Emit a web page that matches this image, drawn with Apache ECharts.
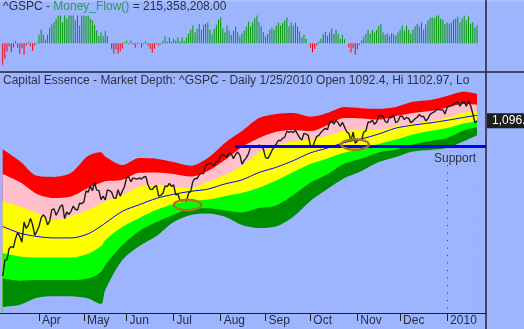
<!DOCTYPE html>
<html>
<head>
<meta charset="utf-8">
<script src="https://cdn.jsdelivr.net/npm/echarts@6/dist/echarts.min.js"></script>
<style>
html,body{margin:0;padding:0;background:#9db5ff;}
#chart{width:524px;height:329px;}
</style>
</head>
<body>
<div id="chart"></div>
<script>
// ^GSPC daily closes, one per trading day (index 0 = first bar)
const closes = [
  676.5, 719.6, 721.4, 750.7, 756.6, 753.9, 778.1, 794.4, 784.0, 768.5, 822.9, 806.1, 813.9, 832.9, 815.9, 787.5, 797.9,
  811.1, 834.4, 842.5, 835.5, 815.6, 825.2, 856.6, 858.7, 841.5, 852.1, 865.3, 869.6, 832.4, 850.1, 843.6, 851.9, 866.2, 857.5, 855.2, 873.6, 872.8,
  877.5, 907.2, 903.8, 919.5, 907.4, 929.2, 909.2, 908.4, 883.9, 893.1, 882.9, 909.7, 908.1, 903.5, 888.3, 887.0, 910.3, 893.1, 906.8, 919.1,
  942.9, 944.7, 931.8, 942.5, 940.1, 939.1, 942.4, 939.2, 944.9, 946.2, 923.7, 912.0, 910.7, 918.4, 921.2, 893.0, 895.1, 900.9, 920.3, 918.9, 927.2, 919.3,
  923.3, 896.4, 898.7, 881.0, 879.6, 882.7, 879.1, 901.1, 905.8, 932.7, 940.7, 940.4, 951.1, 954.6, 954.1, 976.3, 979.3, 982.2, 979.6, 975.2, 986.8, 987.5,
  1002.6, 1005.7, 1002.7, 997.1, 1010.5, 1007.1, 994.4, 1005.8, 1012.7, 1004.1, 979.7, 989.7, 996.5, 1007.4, 1026.1, 1025.6, 1028.0, 1028.1, 1031.0, 1028.9, 1020.6,
  998.0, 994.8, 1003.2, 1016.4, 1025.4, 1033.4, 1044.1, 1042.7, 1049.3, 1052.6, 1068.8, 1065.5, 1068.3, 1064.7, 1071.7, 1060.9, 1050.8, 1044.4, 1063.0, 1060.6, 1057.1,
  1029.9, 1025.2, 1040.5, 1054.7, 1057.6, 1065.5, 1071.5, 1076.2, 1073.2, 1092.0, 1096.6, 1087.7, 1097.9, 1091.1, 1081.4, 1092.9, 1079.6, 1067.0, 1063.4, 1042.6, 1066.1, 1036.2,
  1042.9, 1045.4, 1046.5, 1066.6, 1069.3, 1093.1, 1093.0, 1098.5, 1087.2, 1093.5, 1109.3, 1110.3, 1109.8, 1094.9, 1091.4, 1106.2, 1105.7, 1110.6, 1091.5, 1095.6,
  1108.9, 1109.2, 1099.9, 1106.0, 1103.3, 1091.9, 1096.0, 1102.4, 1106.4, 1114.1, 1107.9, 1109.2, 1096.1, 1102.5, 1114.1, 1118.0, 1120.6, 1126.5, 1127.8, 1126.2, 1126.4, 1115.1,
  1133.0, 1136.5, 1137.1, 1141.7, 1145.0, 1147.0, 1136.2, 1145.7, 1148.5, 1136.0, 1150.2, 1138.0, 1116.5, 1091.8, 1096.78
];

// Money_Flow() per trading day, in millions
const moneyFlow = [
  -260, -188, -100, -36, -108, -52, 24, -52, -128, -60, -140, -28, 16, -36, -92, -28, 12, 100, 160, 100,
  44, 100, 184, 224, 252, 292, 332, 332, 252, 332, 292, 332, 332, 332, 272, 332, 212, 332, 332, 324,
  332, 292, 272, 220, 152, 84, 132, 84, 144, 84, 0, -68, -128, -76, -128, -100, -68, 12, 32, -12,
  32, -12, -56, -12, -4, -52, -12, 24, -28, -68, -116, -68, -12, -28, -12, 28, 80, 20, 68, 20,
  52, 28, 68, 20, 68, 28, 68, 116, 160, 212, 128, 172, 232, 160, 220, 232, 248, 160, 108, 172,
  220, 280, 308, 180, 128, 208, 148, 100, 148, 200, 132, 80, 120, 148, 200, 260, 200, 248, 300, 332,
  248, 200, 132, 80, 108, 160, 188, 160, 212, 248, 212, 240, 272, 308, 200, 248, 212, 248, 200, 140,
  68, 100, 52, 0, -52, -108, -68, -28, 20, 52, 108, 136, 88, 128, 172, 108, 160, 112, 52, 100,
  48, 0, -52, -112, -60, -140, -72, -20, 32, 80, 112, 160, 112, 160, 128, 160, 208, 232, 128, 100,
  120, 88, 120, 112, 88, 132, 160, 208, 148, 208, 160, 112, 160, 200, 232, 200, 248, 160, 228, 272,
  300, 312, 304, 328, 332, 292, 280, 232, 248, 232, 248, 280, 292, 320, 248, 292, 332, 272, 320, 232,
  252, 188, 215.358208
];

// Market Depth envelope, sampled on these trading-day indices
const bandDays = [0, 8, 16, 24, 32, 40, 46, 48, 56, 64, 72, 80, 88, 96, 104, 112, 120, 128, 136, 144, 152, 160, 168, 176, 184, 192, 200, 208, 216, 222];
const redTop      = [1020, 988, 948, 945, 956, 1002, 1012, 1000, 977, 996, 994, 985, 975, 996, 1037, 1069, 1104, 1115, 1118, 1108, 1118, 1134, 1131, 1129, 1134, 1148, 1153, 1164, 1175, 1169];
const pinkTop     = [953, 931, 899, 888, 892, 915, 929, 933, 937, 956, 957, 953, 946, 961, 991, 1026, 1050, 1067, 1072, 1069, 1085, 1104, 1103, 1100, 1110, 1118, 1123, 1133, 1142, 1140];
const yellowTop   = [879, 865, 847, 829, 838, 856, 872, 879, 896, 919, 923, 918, 915, 931, 950, 975, 1011, 1029, 1042, 1046, 1056, 1069, 1072, 1072, 1083, 1088, 1096, 1106, 1119, 1122];
const greenTop    = [739, 730, 727, 727, 727, 737, 758, 774, 810, 834, 856, 872, 880, 884, 893, 902, 916, 935, 958, 980, 995, 1011, 1021, 1034, 1046, 1060, 1069, 1077, 1090, 1095];
const darkTop     = [670, 664, 666, 666, 666, 670, 688, 707, 761, 799, 823, 843, 858, 860, 854, 849, 861, 868, 896, 929, 952, 981, 995, 1011, 1019, 1033, 1042, 1050, 1071, 1079];
const darkBottom  = [593, 599, 618, 622, 622, 616, 601, 639, 720, 758, 785, 823, 842, 846, 837, 815, 807, 811, 837, 880, 912, 942, 961, 985, 999, 1014, 1018, 1023, 1042, 1058];
const movingAvg   = [811, 793, 784, 780, 780, 791, 812, 820, 852, 870, 887, 898, 906, 912, 926, 937, 957, 971, 989, 1010, 1023, 1038, 1048, 1061, 1077, 1085, 1091, 1098, 1106, 1112];

// Axis: first trading day of each month
const monthStarts = [17, 38, 58, 80, 102, 123, 144, 166, 186, 208];
const monthLabels = ['Apr', 'May', 'Jun', 'Jul', 'Aug', 'Sep', 'Oct', 'Nov', 'Dec', '2010'];

// Annotations
const supportLevel = 1028;
const supportFrom = 108.7;
const yearMark = 208;
const yearMarkTop = 977;
const supportText = [211.7, 995];
const circled = [[86.5, 869], [164.9, 1032.6]];

const headline = 'Capital Essence - Market Depth: ^GSPC - Daily 1/25/2010 Open 1092.4, Hi 1102.97, Lo';

const FONT = '"Liberation Sans", Arial, sans-serif';
const BG = '#9db5ff';
const X_MIN = -1.26, X_MAX = 226.2;
const Y_MIN = 577, Y_MAX = 1226;

// Elliptical ring (outer 30x13, ~2.5px wall) used to circle a price area
const OVAL_PATH = 'path://M0,6.5 A15,6.5 0 1,1 30,6.5 A15,6.5 0 1,1 0,6.5 Z ' +
                  'M2.5,6.5 A12.5,4 0 1,0 27.5,6.5 A12.5,4 0 1,0 2.5,6.5 Z';

const fmt2 = v => v.toLocaleString('en-US', { minimumFractionDigits: 2, maximumFractionDigits: 2 });
const mfText = fmt2(Math.round(moneyFlow[moneyFlow.length - 1] * 1e6));

function band(values, color) {
  return {
    type: 'line', xAxisIndex: 1, yAxisIndex: 1,
    data: bandDays.map((d, i) => [d, values[i]]),
    symbol: 'none', smooth: 0.3, silent: true,
    lineStyle: { width: 0 },
    areaStyle: { color: color, opacity: 1, origin: 'start' }
  };
}

const chart = echarts.init(document.getElementById('chart'), null, { renderer: 'canvas' });

chart.setOption({
  animation: false,
  backgroundColor: BG,
  title: [
    {
      left: 3, top: 1, padding: 0,
      text: '{a|^GSPC - }{b|Money_Flow()}{a| = ' + mfText + '}',
      textStyle: {
        fontFamily: FONT, fontSize: 12, fontWeight: 'normal',
        rich: {
          a: { color: '#30303e', fontSize: 12, fontFamily: FONT, fontWeight: 'normal' },
          b: { color: '#2f9a5a', fontSize: 12, fontFamily: FONT, fontWeight: 'normal' }
        }
      }
    },
    {
      left: 3, top: 75, padding: 0,
      text: headline,
      textStyle: { color: '#30303e', fontSize: 12, fontWeight: 'normal', fontFamily: FONT }
    }
  ],
  grid: [
    { left: 0, right: 38, top: 12, height: 56 },
    { left: 0, right: 38, top: 73, height: 240 }
  ],
  xAxis: [
    { type: 'value', gridIndex: 0, min: X_MIN, max: X_MAX, show: false },
    {
      type: 'value', gridIndex: 1, min: X_MIN, max: X_MAX,
      axisLine: { show: true, onZero: false, lineStyle: { color: '#222', width: 1 } },
      axisTick: { show: true, customValues: monthStarts, length: 8, lineStyle: { color: '#222', width: 1 } },
      axisLabel: {
        customValues: monthStarts,
        formatter: v => monthLabels[monthStarts.indexOf(v)] || '',
        align: 'left', padding: [0, 0, 0, 3], margin: 2,
        color: '#2c2c40', fontSize: 12, fontFamily: FONT
      },
      splitLine: { show: false }
    }
  ],
  yAxis: [
    { type: 'value', gridIndex: 0, min: -298, max: 374, show: false },
    { type: 'value', gridIndex: 1, min: Y_MIN, max: Y_MAX, show: false }
  ],
  graphic: [
    { type: 'rect', silent: true, shape: { x: 0, y: 0, width: 524, height: 2 }, style: { fill: '#aec2ff' } },
    { type: 'line', silent: true, shape: { x1: 0, y1: 72, x2: 524, y2: 72 }, style: { stroke: '#262626', lineWidth: 1.5 } },
    { type: 'line', silent: true, shape: { x1: 486, y1: 0, x2: 486, y2: 329 }, style: { stroke: '#262626', lineWidth: 1.5 } }
  ],
  series: [
    {
      type: 'bar', xAxisIndex: 0, yAxisIndex: 0, silent: true, barWidth: 1,
      data: moneyFlow.map((v, i) => ({ value: [i, v], itemStyle: { color: v >= 0 ? '#009a00' : '#ff0000' } }))
    },
    band(redTop, '#ff0000'),
    band(pinkTop, '#ffc0cb'),
    band(yellowTop, '#ffff00'),
    band(greenTop, '#00ff00'),
    band(darkTop, '#008c00'),
    band(darkBottom, BG),
    {
      type: 'line', xAxisIndex: 1, yAxisIndex: 1, silent: true,
      data: bandDays.map((d, i) => [d, movingAvg[i]]),
      symbol: 'none', smooth: 0.3,
      lineStyle: { color: '#0000ff', width: 1 }
    },
    {
      type: 'line', xAxisIndex: 1, yAxisIndex: 1, silent: true,
      data: closes.map((v, i) => [i, v]),
      symbol: 'none',
      lineStyle: { color: '#1e1e1e', width: 1.4 },
      endLabel: {
        show: true,
        formatter: p => fmt2(p.value[1]),
        color: '#ffffff', backgroundColor: '#1e1e1e',
        fontSize: 12, fontFamily: FONT,
        padding: [2, 4, 1, 5], distance: 10
      }
    },
    {
      type: 'line', xAxisIndex: 1, yAxisIndex: 1, silent: true,
      data: [[supportFrom, supportLevel]],
      symbol: 'none', lineStyle: { width: 0 },
      markLine: {
        silent: true, symbol: ['none', 'none'], label: { show: false },
        data: [
          [
            { coord: [supportFrom, supportLevel], lineStyle: { color: '#0000ff', width: 3, type: 'solid' } },
            { coord: [X_MAX, supportLevel], lineStyle: { color: '#0000ff', width: 3, type: 'solid' } }
          ],
          [
            { coord: [yearMark, yearMarkTop], lineStyle: { color: '#3a3a3a', width: 1, type: [1, 6.5] } },
            { coord: [yearMark, Y_MIN], lineStyle: { color: '#3a3a3a', width: 1, type: [1, 6.5] } }
          ]
        ]
      },
      markPoint: {
        silent: true,
        data: [
          {
            coord: supportText, symbol: 'circle', symbolSize: 1,
            itemStyle: { color: 'rgba(0,0,0,0)' },
            label: { show: true, position: 'inside', formatter: 'Support', color: '#30303e', fontSize: 12, fontFamily: FONT }
          }
        ].concat(circled.map(c => ({
          coord: c, symbol: OVAL_PATH, symbolSize: [30, 13], symbolKeepAspect: false,
          itemStyle: { color: '#a8761a' },
          label: { show: false }
        })))
      }
    }
  ]
});
</script>
</body>
</html>
